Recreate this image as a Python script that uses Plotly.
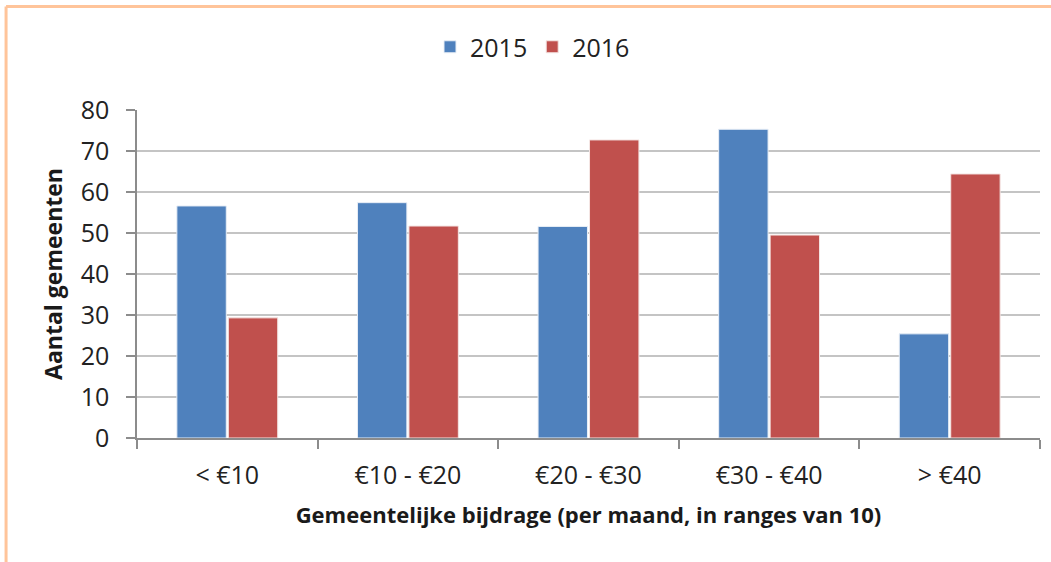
import plotly.graph_objects as go

# data
categories = ["< €10", "€10 - €20", "€20 - €30", "€30 - €40", "> €40"]
values_2015 = [56.6, 57.4, 51.6, 75.3, 25.4]
values_2016 = [29.3, 51.7, 72.7, 49.5, 64.4]
y_ticks = [0, 10, 20, 30, 40, 50, 60, 70, 80]

BLUE = "#4F81BD"
RED = "#C0504D"
FONT = "Open Sans"

fig = go.Figure()
fig.add_trace(go.Bar(
    x=categories, y=values_2015, name="2015",
    marker=dict(color=BLUE, line=dict(color="#e8eef6", width=1)),
))
fig.add_trace(go.Bar(
    x=categories, y=values_2016, name="2016",
    marker=dict(color=RED, line=dict(color="#f4e6e4", width=1)),
))

# light orange frame (top + left edges only visible)
frame = "#FFC49A"
fig.add_shape(type="line", xref="paper", yref="paper",
              x0=-0.145, x1=1.05, y0=1.3155, y1=1.3155,
              line=dict(color=frame, width=3))
fig.add_shape(type="line", xref="paper", yref="paper",
              x0=-0.145, x1=-0.145, y0=1.3155, y1=-0.45,
              line=dict(color=frame, width=3))

fig.update_layout(
    width=1051, height=562,
    margin=dict(l=137, r=11, t=110, b=124, autoexpand=False),
    paper_bgcolor="white",
    plot_bgcolor="white",
    barmode="group",
    bargap=0.43,
    bargroupgap=0.04,
    font=dict(family=FONT, color="#333333"),
    legend=dict(
        orientation="h", x=0.438, xanchor="center", y=1.192, yanchor="middle",
        font=dict(size=25, color="#222222"), bgcolor="rgba(0,0,0,0)",
        itemwidth=30, traceorder="normal",
    ),
)

fig.update_xaxes(
    automargin=False,
    showline=True, linecolor="#8c8c8c", linewidth=2,
    ticks="outside", tickson="boundaries", ticklen=9, tickcolor="#8c8c8c", tickwidth=1.5,
    tickfont=dict(size=25, color="#222222"), ticklabelstandoff=14,
    title=dict(text="<b>Gemeentelijke bijdrage (per maand, in ranges van 10)</b>",
               font=dict(size=22, color="#1a1a1a"), standoff=18),
    showgrid=False,
)
fig.update_yaxes(
    automargin=False,
    range=[0, 80], tickvals=y_ticks,
    showline=True, linecolor="#8c8c8c", linewidth=1.5,
    ticks="outside", ticklen=9, tickcolor="#8c8c8c", tickwidth=1.5,
    tickfont=dict(size=25, color="#222222"), ticklabelstandoff=12,
    showgrid=True, gridcolor="#c4c4c4", gridwidth=1.5,
    zeroline=False,
    title=dict(text="<b>Aantal gemeenten</b>",
               font=dict(size=23, color="#1a1a1a"), standoff=12),
)

# drop the browser's default 8px body margin so the figure sits at the page origin
fig.write_html("out.html", config={"displayModeBar": False},
               post_script="document.body.style.margin='0';")
